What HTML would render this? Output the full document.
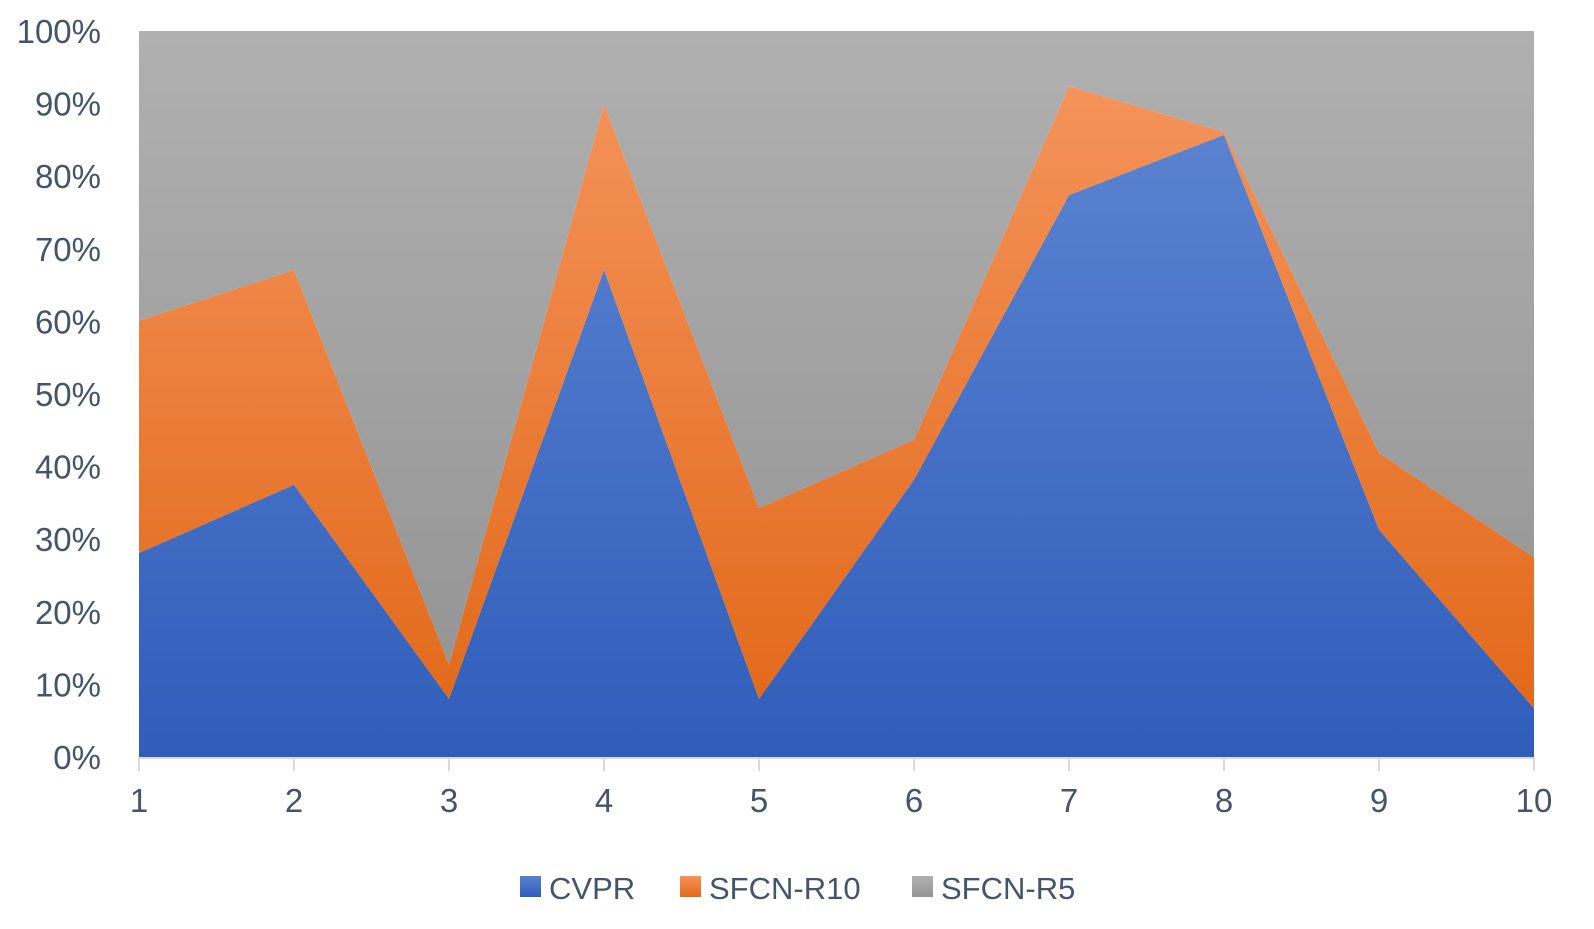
<!DOCTYPE html>
<html><head><meta charset="utf-8"><style>
body{margin:0;background:#fff;}
svg text{font-family:"Liberation Sans",sans-serif;fill:#44546a;}
</style></head><body>
<svg id="chart" width="1594" height="924" xmlns="http://www.w3.org/2000/svg">
<defs>
<linearGradient id="gB" x1="0" y1="0" x2="0" y2="1"><stop offset="0" stop-color="#5a82d0"/><stop offset="1" stop-color="#2f5dba"/></linearGradient>
<linearGradient id="gO" x1="0" y1="0" x2="0" y2="1"><stop offset="0" stop-color="#f4935a"/><stop offset="1" stop-color="#e2691a"/></linearGradient>
<linearGradient id="gG" x1="0" y1="0" x2="0" y2="1"><stop offset="0" stop-color="#b0b0b0"/><stop offset="1" stop-color="#959595"/></linearGradient>
</defs>
<g id="areas"></g><g id="axes"></g><g id="legend"></g>
</svg>
<script>
const categories=['1','2','3','4','5','6','7','8','9','10'];
const cvpr=[28.1,37.5,8.0,67.1,8.0,38.2,77.4,85.7,31.3,6.7];
const sfcnR10=[32.0,29.6,4.7,22.8,26.3,5.5,15.0,0.4,10.6,20.8];
const sfcnR5=[39.9,32.9,87.3,10.1,65.7,56.3,7.6,13.9,58.1,72.5];
const yTicks=[0,10,20,30,40,50,60,70,80,90,100];
const NS='http://www.w3.org/2000/svg';
const X0=139,X1=1534,Y0=757,Y1=31;
const xs=i=>X0+(X1-X0)*i/(categories.length-1);
const ys=p=>Y0-(Y0-Y1)*p/100;
const series=[{name:'CVPR',v:cvpr,f:'url(#gB)',id:'cvpr'},{name:'SFCN-R10',v:sfcnR10,f:'url(#gO)',id:'sfcn-r10'},{name:'SFCN-R5',v:sfcnR5,f:'url(#gG)',id:'sfcn-r5'}];
const tot=categories.map((c,i)=>cvpr[i]+sfcnR10[i]+sfcnR5[i]);
let base=categories.map(()=>0);
const areas=document.getElementById('areas');
series.forEach(s=>{
  const top=base.map((b,i)=>b+s.v[i]/tot[i]*100);
  let d='M'+categories.map((c,i)=>xs(i)+','+ys(top[i])).join('L');
  for(let i=categories.length-1;i>=0;i--) d+='L'+xs(i)+','+ys(base[i]);
  const p=document.createElementNS(NS,'path');
  p.setAttribute('d',d+'Z');p.setAttribute('fill',s.f);
  
  
  areas.appendChild(p);base=top;
});
const ax=document.getElementById('axes');
const l=document.createElementNS(NS,'line');
l.setAttribute('x1',X0);l.setAttribute('x2',X1);l.setAttribute('y1',Y0+1);l.setAttribute('y2',Y0+1);
l.setAttribute('stroke','#d9d9d9');l.setAttribute('stroke-width','2');


ax.appendChild(l);
yTicks.forEach(t=>{
  const tx=document.createElementNS(NS,'text');
  tx.setAttribute('x',101);tx.setAttribute('y',ys(t)+12);tx.setAttribute('text-anchor','end');tx.setAttribute('font-size','33');
  tx.textContent=t+'%';
  
  
  ax.appendChild(tx);
});
categories.forEach((c,i)=>{
  const tk=document.createElementNS(NS,'line');
  tk.setAttribute('x1',xs(i));tk.setAttribute('x2',xs(i));tk.setAttribute('y1',Y0);tk.setAttribute('y2',Y0+14);
  tk.setAttribute('stroke','#d9d9d9');tk.setAttribute('stroke-width','2');
  
  
  ax.appendChild(tk);
  const tx=document.createElementNS(NS,'text');
  tx.setAttribute('x',xs(i));tx.setAttribute('y',812);tx.setAttribute('text-anchor','middle');tx.setAttribute('font-size','33');
  tx.textContent=c;
  
  
  ax.appendChild(tx);
});
const lg=document.getElementById('legend');
const lx=[520,680,912];
series.forEach((s,i)=>{
  const r=document.createElementNS(NS,'rect');
  r.setAttribute('x',lx[i]);r.setAttribute('y',876);r.setAttribute('width',21);r.setAttribute('height',21);r.setAttribute('fill',s.f);
  
  
  lg.appendChild(r);
  const t=document.createElementNS(NS,'text');
  t.setAttribute('x',lx[i]+29);t.setAttribute('y',899);t.setAttribute('font-size','31');
  t.textContent=s.name;
  
  
  lg.appendChild(t);
});
</script>
</body></html>
